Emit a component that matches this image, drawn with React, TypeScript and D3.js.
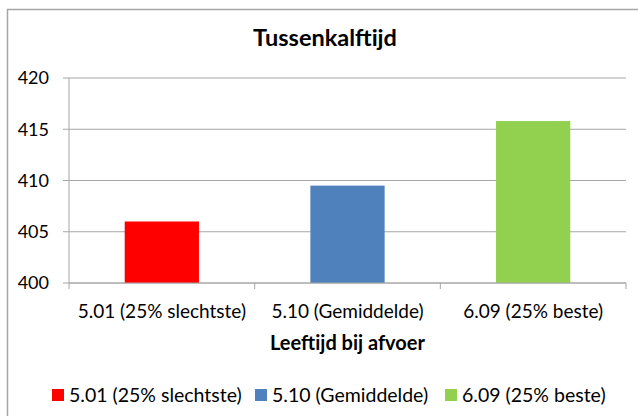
import { useEffect, useRef } from 'react';
import * as d3 from 'd3';

const categories = ['5.01 (25% slechtste)', '5.10 (Gemiddelde)', '6.09 (25% beste)'];
const values = [406.0, 409.5, 415.8];
const colors = ['#ff0000', '#4f81bd', '#92d050'];
const yTicks = [400, 405, 410, 415, 420];

const width = 638;
const height = 416;
const margin = { left: 69, right: 12, top: 78, bottom: 133 };

const App = () => {
  const svgRef = useRef<SVGSVGElement>(null);

  useEffect(() => {
    const svg = d3.select(svgRef.current);
    svg.selectAll('*').remove();
    const font = 'Lato, "Open Sans", sans-serif';

    // frame
    svg.append('rect')
      .attr('x', 7.5).attr('y', 9.5)
      .attr('width', width).attr('height', height)
      .attr('fill', '#fff')
      .attr('stroke', '#a6a6a6')
      .attr('stroke-width', 1.5);

    const x = d3.scaleBand()
      .domain(categories)
      .range([margin.left, width - margin.right])
      .paddingInner(0.6)
      .paddingOuter(0.3);

    const y = d3.scaleLinear()
      .domain([400, 420])
      .range([height - margin.bottom, margin.top]);

    // title
    svg.append('text')
      .attr('x', 325).attr('y', 46)
      .attr('text-anchor', 'middle')
      .attr('font-family', font)
      .attr('font-weight', 'bold')
      .attr('font-size', 23.5)
      .text('Tussenkalftijd');

    // gridlines
    svg.append('g')
      .selectAll('line')
      .data(yTicks)
      .enter().append('line')
      .attr('x1', margin.left - 6)
      .attr('x2', width - margin.right)
      .attr('y1', d => y(d))
      .attr('y2', d => y(d))
      .attr('stroke', '#a6a6a6')
      .attr('stroke-width', 1);

    // y axis line
    svg.append('line')
      .attr('x1', margin.left).attr('x2', margin.left)
      .attr('y1', y(420)).attr('y2', y(400))
      .attr('stroke', '#a6a6a6');

    // y tick labels
    svg.append('g')
      .selectAll('text')
      .data(yTicks)
      .enter().append('text')
      .attr('x', margin.left - 20)
      .attr('y', d => y(d))
      .attr('dy', '0.35em')
      .attr('text-anchor', 'end')
      .attr('font-family', font)
      .attr('font-size', 18)
      .text(d => d);

    // bars
    svg.append('g')
      .selectAll('rect')
      .data(values)
      .enter().append('rect')
      .attr('x', (d, i) => x(categories[i]))
      .attr('y', d => y(d))
      .attr('width', x.bandwidth())
      .attr('height', d => y(400) - y(d))
      .attr('fill', (d, i) => colors[i]);

    // x axis line + ticks at category boundaries
    const step = x.step();
    const bounds = d3.range(categories.length + 1).map(i => margin.left + i * step);
    svg.append('line')
      .attr('x1', margin.left).attr('x2', width - margin.right)
      .attr('y1', y(400)).attr('y2', y(400))
      .attr('stroke', '#a6a6a6');
    svg.append('g')
      .selectAll('line')
      .data(bounds)
      .enter().append('line')
      .attr('x1', d => d).attr('x2', d => d)
      .attr('y1', y(400)).attr('y2', y(400) + 6)
      .attr('stroke', '#a6a6a6');

    // x labels
    svg.append('g')
      .selectAll('text')
      .data(categories)
      .enter().append('text')
      .attr('x', d => x(d) + x.bandwidth() / 2)
      .attr('y', 318)
      .attr('text-anchor', 'middle')
      .attr('font-family', font)
      .attr('font-size', 19)
      .text(d => d);

    // axis title
    svg.append('text')
      .attr('x', (margin.left + width - margin.right) / 2)
      .attr('y', 350)
      .attr('text-anchor', 'middle')
      .attr('font-family', font)
      .attr('font-weight', 'bold')
      .attr('font-size', 20)
      .text('Leeftijd bij afvoer');

    // legend
    const legendX = [52, 255, 445];
    const legend = svg.append('g')
      .selectAll('g')
      .data(categories)
      .enter().append('g')
      .attr('transform', (d, i) => `translate(${legendX[i]}, 389)`);
    legend.append('rect')
      .attr('width', 12).attr('height', 12)
      .attr('fill', (d, i) => colors[i]);
    legend.append('text')
      .attr('x', 17).attr('y', 6)
      .attr('dy', '0.35em')
      .attr('font-family', font)
      .attr('font-size', 19.5)
      .text(d => d);
  }, []);

  return (
    <svg ref={svgRef} width={width} height={height}
      style={{ position: 'absolute', left: 0, top: 0, background: '#fff' }} />
  );
};

export default App;
